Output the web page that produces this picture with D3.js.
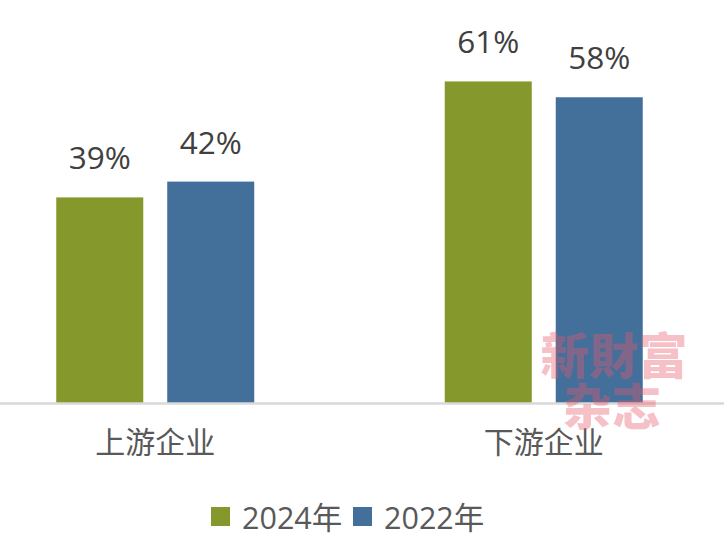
<!DOCTYPE html>
<html><head><meta charset="utf-8">
<script src="https://cdn.jsdelivr.net/npm/d3@7"></script>
<style>html,body{margin:0;padding:0;background:#fff;}svg{display:block;}</style>
</head><body>
<svg id="c" width="724" height="547"></svg>
<script>
const categories = ["上游企业", "下游企业"];
const seriesNames = ["2024年", "2022年"];
const values2024 = [39, 61];
const values2022 = [42, 58];
const colors = ["#84982B", "#436F9B"];
const W = 724, H = 547;
const svg = d3.select("#c");
const font = "'Open Sans','Noto Sans CJK SC',sans-serif";

const x0 = d3.scaleBand().domain(categories).range([-39, 738]).padding(0);
const x1 = d3.scaleBand().domain(seriesNames).range([0, 198]).paddingInner(0.216).paddingOuter(0);
const y = d3.scaleLinear().domain([0, 70]).range([403, 34]);

const data = categories.map((c, i) => ({cat: c, vals: [values2024[i], values2022[i]]}));

const g = svg.selectAll("g.cat").data(data).join("g")
  .attr("transform", d => `translate(${x0(d.cat) + x0.bandwidth()/2 - 99},0)`);

g.selectAll("rect").data(d => d.vals.map((v, j) => ({s: seriesNames[j], v, j}))).join("rect")
  .attr("x", d => x1(d.s)).attr("width", x1.bandwidth())
  .attr("y", d => y(d.v)).attr("height", d => y(0) - y(d.v))
  .attr("fill", d => colors[d.j]);

g.selectAll("text.v").data(d => d.vals.map((v, j) => ({s: seriesNames[j], v, j}))).join("text")
  .attr("class", "v")
  .attr("x", d => x1(d.s) + x1.bandwidth()/2).attr("y", d => y(d.v) - 28)
  .attr("text-anchor", "middle").attr("font-family", font).attr("font-size", 31.5)
  .attr("fill", "#404040").text(d => d.v + "%");

// baseline axis
svg.append("line").attr("x1", 0).attr("x2", W).attr("y1", y(0) + 0.5).attr("y2", y(0) + 0.5)
  .attr("stroke", "#d9d9d9").attr("stroke-width", 2.5);

// category labels
svg.selectAll("text.cat").data(categories).join("text").attr("class", "cat")
  .attr("x", d => x0(d) + x0.bandwidth()/2).attr("y", 453)
  .attr("text-anchor", "middle").attr("font-family", font).attr("font-size", 30)
  .attr("fill", "#595959").text(d => d);

// legend
const legX = [211, 353];
const lg = svg.selectAll("g.leg").data(seriesNames).join("g").attr("class", "leg")
  .attr("transform", (d, i) => `translate(${legX[i]},0)`);
lg.append("rect").attr("x", 0).attr("y", 507).attr("width", 19).attr("height", 19)
  .attr("fill", (d, i) => colors[i]);
lg.append("text").attr("x", 31).attr("y", 529).attr("font-family", font).attr("font-size", 30.5)
  .attr("fill", "#595959").text(d => d);

// watermark (single text, two lines)
const wm = svg.append("text").attr("font-family", "'Noto Sans CJK TC','Noto Sans CJK SC',serif")
  .attr("font-weight", 900).attr("fill", "#e8596c").attr("fill-opacity", 0.38)
  .attr("text-anchor", "middle").attr("font-size", 49);
wm.append("tspan").attr("x", 614).attr("y", 374).text("新財富");
wm.append("tspan").attr("x", 612).attr("y", 425).text("杂志");
</script>
</body></html>
